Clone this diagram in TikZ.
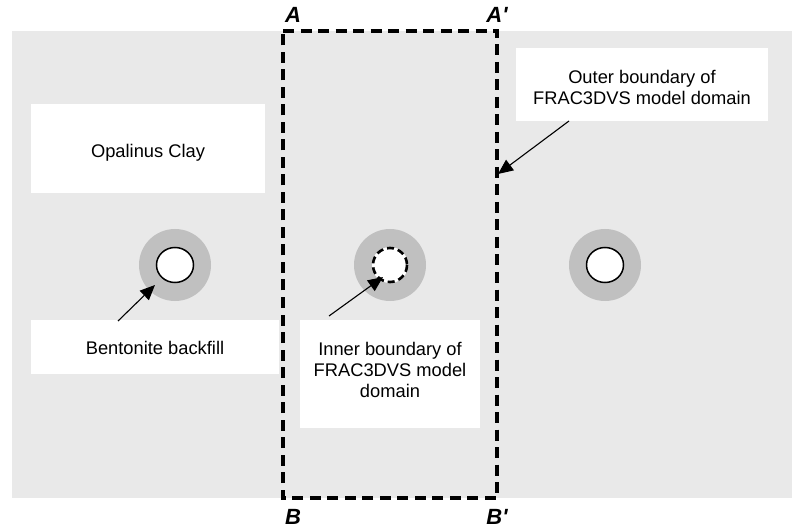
\documentclass[tikz,border=0pt]{standalone}
\usepackage{fontspec}
\setmainfont{Liberation Sans}
\usetikzlibrary{arrows.meta}
\definecolor{bggray}{RGB}{233,233,233}
\definecolor{ringgray}{RGB}{192,192,192}
\begin{document}
\begin{tikzpicture}[x=1pt,y=-1pt,
  txt/.style={font=\fontsize{18.3}{21}\selectfont, align=center},
  ptr/.style={line width=1.1pt, -{Triangle[length=15pt,width=13pt]}},
  bnd/.style={line width=3.3pt, dash pattern=on 11pt off 6.5pt},
  corner/.style={font=\fontsize{22}{26}\selectfont\bfseries\itshape}]
\useasboundingbox (0,0) rectangle (792,529);
% background (Opalinus Clay)
\fill[bggray] (12,31) rectangle (792,498);
% white label boxes
\fill[white] (31,104) rectangle (265,193);
\node[txt] (opal) at (148,153) {Opalinus Clay};
\fill[white] (516,48) rectangle (768,121);
\node[txt] (outer) at (642,87) {Outer boundary of\\FRAC3DVS model domain};
\coordinate (outerStart) at (569,121);
\fill[white] (31,320) rectangle (279,374);
\node[txt] (bent) at (155,348) {Bentonite backfill};
\coordinate (bentStart) at (118,321);
\fill[white] (300,320) rectangle (480,428);
\node[txt] (inner) at (390,370) {Inner boundary of\\FRAC3DVS model\\domain};
\coordinate (innerStart) at (329,316);
% boreholes
\foreach \cx in {175, 390, 605}{
  \fill[ringgray] (\cx,265) circle[radius=36];
}
\draw[line width=1.5pt, fill=white] (175,265) ellipse[x radius=18.5, y radius=17.5];
\fill[white] (390,265) circle[radius=18];
\draw[line width=2.6pt, dash pattern=on 7pt off 4pt] (390,265) circle[radius=17];
\draw[line width=1.5pt, fill=white] (605,265) ellipse[x radius=18.5, y radius=17.5];
\coordinate (h1) at (155,285);
\coordinate (h2) at (383,277);
% model domain outer boundary
\draw[bnd] (283,31) -- (497,31) -- (497,498) -- (283,498) -- cycle;
\coordinate (domEdge) at (498,174);
% arrows
\draw[ptr] (outerStart) -- (domEdge);
\draw[ptr] (bentStart) -- (h1);
\draw[ptr] (innerStart) -- (h2);
% section labels
\node[corner] (A) at (293,15) {A};
\node[corner] (Ap) at (497,15) {A\textquotesingle};
\node[corner] (B) at (293,517) {B};
\node[corner] (Bp) at (497,517) {B\textquotesingle};
\end{tikzpicture}
\end{document}
